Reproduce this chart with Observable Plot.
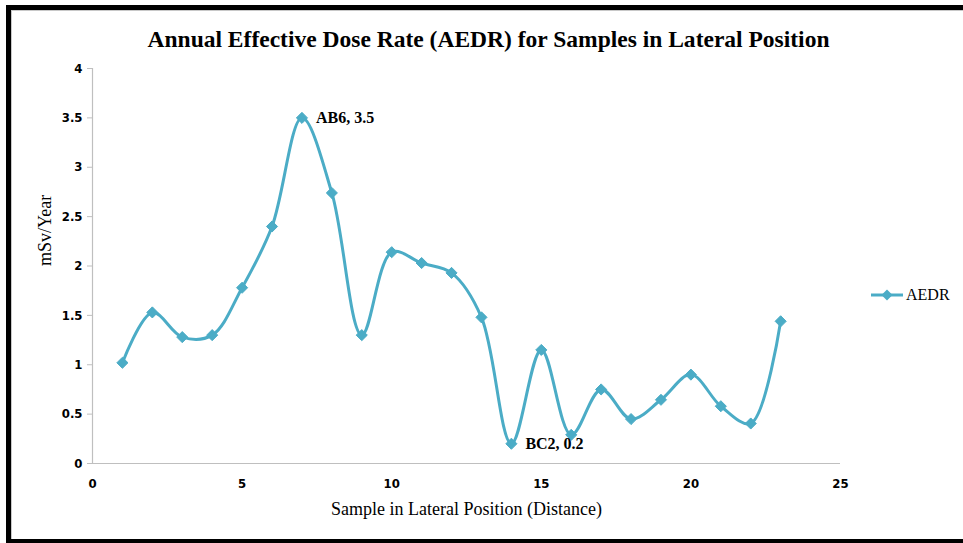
<!DOCTYPE html>
<html>
<head>
<meta charset="utf-8">
<script src="https://cdn.jsdelivr.net/npm/d3@7"></script>
<script src="https://cdn.jsdelivr.net/npm/@observablehq/plot@0.6"></script>
<style>
  html, body { margin: 0; padding: 0; background: #fff; }
  #chart { position: relative; width: 963px; height: 543px; overflow: hidden; background: #fff; }
  #chart > svg { position: absolute; left: 0; top: 0; }
  .bar { position: absolute; background: #000; }
  .edge { position: absolute; background: #c8c8c8; }
  g[aria-label="y-axis tick label"] text,
  g[aria-label="x-axis tick label"] text {
    font-family: "Liberation Sans Narrow", "DejaVu Sans Condensed", "Liberation Sans", sans-serif;
    font-weight: bold;
    font-size: 13px;
    fill: #000;
  }
  #legend { position: absolute; left: 870px; top: 286px; display: flex; align-items: center;
    font-family: "Liberation Serif", "DejaVu Serif", serif; font-size: 16px; color: #000; }
  #legend svg { margin-right: 2px; }
</style>
</head>
<body>
<div id="chart">
  <div class="bar" style="left:6px;top:5px;width:957px;height:5px"></div>
  <div class="bar" style="left:6px;top:5px;width:5px;height:538px"></div>
  <div class="bar" style="left:6px;top:539px;width:957px;height:4px"></div>
  <div class="edge" style="left:11px;top:10px;width:952px;height:1px"></div>
  <div class="edge" style="left:11px;top:10px;width:1px;height:529px"></div>
</div>
<script>
// Sample number along the lateral traverse and its annual effective dose rate (mSv/yr)
const sampleNo = [1, 2, 3, 4, 5, 6, 7, 8, 9, 10, 11, 12, 13, 14, 15, 16, 17, 18, 19, 20, 21, 22, 23];
const aedr = [1.02, 1.53, 1.28, 1.30, 1.78, 2.40, 3.5, 2.74, 1.30, 2.14, 2.03, 1.93, 1.48,
              0.2, 1.15, 0.29, 0.75, 0.45, 0.645, 0.90, 0.58, 0.405, 1.44];

// Highlighted samples: maximum and minimum
const noteSample = [7, 14];
const noteName = ["AB6", "BC2"];

// Axis ticks
const xTicks = [0, 5, 10, 15, 20, 25];
const yTicks = [0, 0.5, 1, 1.5, 2, 2.5, 3, 3.5, 4];

const seriesName = "AEDR";
const titleText = "Annual Effective Dose Rate (AEDR) for Samples in Lateral Position";
const xTitle = "Sample in Lateral Position (Distance)";
const yTitle = "mSv/Year";

const lineColor = "#4bacc6";
const axisColor = "#bfbfbf";

const data = sampleNo.map((s, i) => ({sample: s, value: aedr[i]}));
const notes = noteSample.map((s, i) => {
  const v = aedr[sampleNo.indexOf(s)];
  return {sample: s, value: v, text: `${noteName[i]}, ${v}`};
});

const serif = "'Liberation Serif', 'Times New Roman', 'DejaVu Serif', serif";

const chart = Plot.plot({
  width: 963,
  height: 543,
  marginLeft: 92,
  marginRight: 123,
  marginTop: 68,
  marginBottom: 80,
  style: {background: "transparent", overflow: "visible"},
  x: {domain: [0, 25], label: null},
  y: {domain: [0, 4], label: null},
  marks: [
    Plot.axisY({ticks: yTicks, tickSize: 5, tickPadding: 5, stroke: axisColor, tickFormat: d => String(d)}),
    Plot.axisX({ticks: xTicks, tickSize: 0, tickPadding: 15, tickFormat: d => String(d)}),
    Plot.ruleX([0], {stroke: axisColor, strokeWidth: 1.2}),
    Plot.ruleY([0], {stroke: axisColor, strokeWidth: 1.2}),
    Plot.line(data, {x: "sample", y: "value", curve: "catmull-rom", stroke: lineColor, strokeWidth: 3}),
    Plot.dot(data, {x: "sample", y: "value", symbol: "diamond2", r: 5, fill: lineColor, stroke: lineColor, strokeWidth: 1}),
    Plot.text(notes, {x: "sample", y: "value", text: "text", textAnchor: "start", dx: 14,
      fontFamily: serif, fontWeight: "bold", fontSize: 16, fill: "#000"}),
    Plot.text([titleText], {frameAnchor: "top", dx: 22, dy: -38,
      fontFamily: serif, fontWeight: "bold", fontSize: 23, fill: "#000"}),
    Plot.text([yTitle], {frameAnchor: "left", dx: -47, rotate: -90,
      fontFamily: serif, fontSize: 18, fill: "#000"}),
    Plot.text([xTitle], {frameAnchor: "bottom", dy: 51,
      fontFamily: serif, fontSize: 18, fill: "#000"})
  ]
});

document.getElementById("chart").appendChild(chart);

// Condense the title to its narrow set width
for (const t of chart.querySelectorAll("text")) {
  if (t.textContent === titleText) {
    t.setAttribute("textLength", 682);
    t.setAttribute("lengthAdjust", "spacingAndGlyphs");
  }
}

// Legend for the single series
const legend = document.createElement("div");
legend.id = "legend";
legend.innerHTML =
  `<svg width="34" height="14" viewBox="0 0 34 14">
     <line x1="1" y1="7" x2="33" y2="7" stroke="${lineColor}" stroke-width="3"/>
     <path d="M17 1.5 L22.5 7 L17 12.5 L11.5 7 Z" fill="${lineColor}"/>
   </svg><span>${seriesName}</span>`;
document.getElementById("chart").appendChild(legend);
</script>
</body>
</html>
